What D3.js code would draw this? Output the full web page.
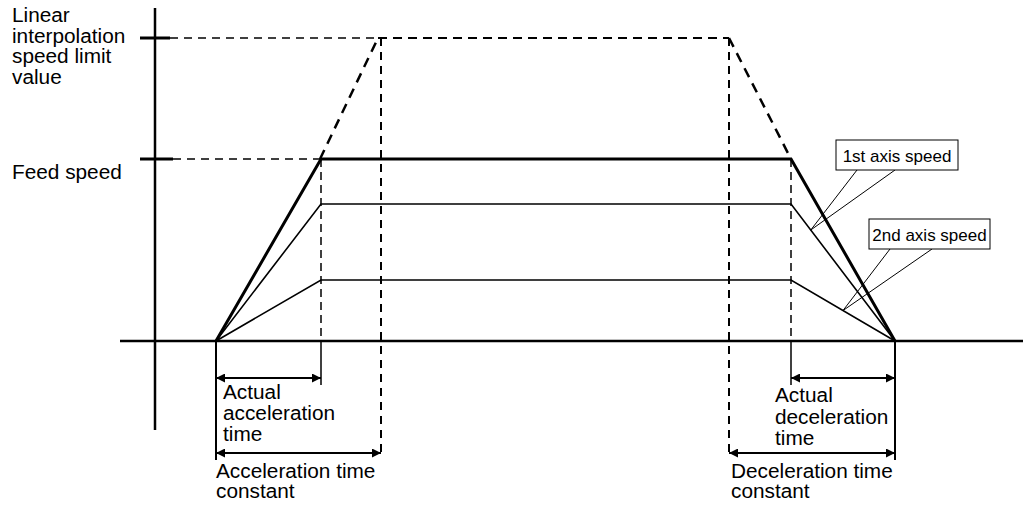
<!DOCTYPE html>
<html>
<head>
<meta charset="utf-8">
<script src="https://cdn.jsdelivr.net/npm/d3@7"></script>
<style>
  html, body { margin: 0; padding: 0; background: #fff; }
  svg { display: block; }
  text { font-family: "Liberation Sans", Arial, Helvetica, sans-serif; fill: #000; }
</style>
</head>
<body>
<svg id="chart" width="1023" height="507"></svg>
<script>
// ---- Data (time in arbitrary units, speed in % of feed speed) ----
const phaseNames  = ["start", "actualAccelEnd", "accelConstEnd", "decelConstStart", "actualDecelStart", "end"];
const phaseTimes  = [0, 105, 165, 513, 575, 679];
const speedLevels = ["Linear interpolation speed limit value", "Feed speed", "1st axis speed", "2nd axis speed"];
const speedValues = [166.5, 100, 75.3, 33.5];
const feedProfile  = [0, 100, 100, 0];      // at start, actualAccelEnd, actualDecelStart, end
const axis1Profile = [0, 75.3, 75.3, 0];
const axis2Profile = [0, 33.5, 33.5, 0];
const limitProfileTimes = [104, 162, 513, 575]; // dashed virtual profile at speed limit
const limitProfileSpeeds = [100, 166.5, 166.5, 100];
const yLabelLines = [["Linear", "interpolation", "speed limit", "value"], ["Feed speed"]];
const accelLabels = [["Actual", "acceleration", "time"], ["Acceleration time", "constant"]];
const decelLabels = [["Actual", "deceleration", "time"], ["Deceleration time", "constant"]];
const calloutLabels = ["1st axis speed", "2nd axis speed"];

const svg = d3.select("#chart");
const x = d3.scaleLinear().domain([-96, 807]).range([120, 1023]);
const y = d3.scaleLinear().domain([0, 166.5]).range([341, 38]);

const T = phaseTimes;
const profT = [T[0], T[1], T[4], T[5]];

// defs: arrowheads
const defs = svg.append("defs");
defs.append("marker").attr("id", "arrEnd").attr("viewBox", "0 0 10 10")
  .attr("refX", 10).attr("refY", 5).attr("markerWidth", 10).attr("markerHeight", 9)
  .attr("markerUnits", "userSpaceOnUse").attr("orient", "auto")
  .append("path").attr("d", "M0,0 L10,5 L0,10 Z").attr("fill", "#000");
defs.append("marker").attr("id", "arrStart").attr("viewBox", "0 0 10 10")
  .attr("refX", 0).attr("refY", 5).attr("markerWidth", 10).attr("markerHeight", 9)
  .attr("markerUnits", "userSpaceOnUse").attr("orient", "auto")
  .append("path").attr("d", "M10,0 L0,5 L10,10 Z").attr("fill", "#000");

const line = d3.line().x(d => x(d[0])).y(d => y(d[1]));
function seg(x1, y1, x2, y2, w, dash) {
  const l = svg.append("line").attr("x1", x1).attr("y1", y1).attr("x2", x2).attr("y2", y2)
    .attr("stroke", "#000").attr("stroke-width", w);
  if (dash) l.attr("stroke-dasharray", dash);
  return l;
}

// ---- Axes ----
seg(x(-61), 8, x(-61), 430, 2.5);          // vertical axis
seg(x(-96), y(0), x(807), y(0), 2.5);       // time axis
// ticks on speed axis
seg(x(-76), y(speedValues[0]), x(-46), y(speedValues[0]), 3);
seg(x(-76), y(speedValues[1]), x(-43), y(speedValues[1]), 3);

// ---- Dashed reference lines ----
seg(x(-46), y(speedValues[0]), x(limitProfileTimes[1]), y(speedValues[0]), 1.5, "8,6");
seg(x(limitProfileTimes[1]), y(speedValues[0]), x(limitProfileTimes[2]), y(speedValues[0]), 2, "9,6");
seg(x(-43), y(speedValues[1]), x(T[1]), y(speedValues[1]), 1.5, "8,6");
// dashed slopes to speed limit
seg(x(limitProfileTimes[0]), y(limitProfileSpeeds[0]), x(limitProfileTimes[1]), y(limitProfileSpeeds[1]), 2.5, "10,7");
seg(x(limitProfileTimes[2]), y(limitProfileSpeeds[2]), x(limitProfileTimes[3]), y(limitProfileSpeeds[3]), 2.5, "10,7");
// dashed verticals
seg(x(T[1]), y(speedValues[1]), x(T[1]), y(0), 1.5, "8,5");
seg(x(T[4]), y(speedValues[1]), x(T[4]), y(0), 1.5, "8,5");
seg(x(T[2]), y(speedValues[0]), x(T[2]), 458, 2, "8,6");
seg(x(T[3]), y(speedValues[0]), x(T[3]), 458, 2, "8,6");

// ---- Speed profiles ----
const profiles = [
  {vals: feedProfile, w: 3},
  {vals: axis1Profile, w: 1.6},
  {vals: axis2Profile, w: 1.6}
];
profiles.forEach(p => {
  svg.append("path").datum(profT.map((t, i) => [t, p.vals[i]]))
    .attr("d", line).attr("fill", "none").attr("stroke", "#000")
    .attr("stroke-width", p.w).attr("stroke-linejoin", "miter");
});

// ---- Extension lines below axis ----
seg(x(T[0]), y(0), x(T[0]), 460, 2);
seg(x(T[5]), y(0), x(T[5]), 460, 2);
seg(x(T[1]), y(0), x(T[1]), 385, 1.5);
seg(x(T[4]), y(0), x(T[4]), 385, 1.5);

// ---- Dimension arrows ----
function dim(t1, t2, yy) {
  svg.append("line").attr("x1", x(t1)).attr("x2", x(t2)).attr("y1", yy).attr("y2", yy)
    .attr("stroke", "#000").attr("stroke-width", 1.8)
    .attr("marker-start", "url(#arrStart)").attr("marker-end", "url(#arrEnd)");
}
dim(T[0], T[1], 378);
dim(T[0], T[2], 453);
dim(T[4], T[5], 378);
dim(T[3], T[5], 453);

// ---- Text labels ----
const FS = 20;
function multi(lines, xx, y0, lh, fs) {
  const g = svg.append("g").attr("transform", `translate(${xx},0) scale(1.04,1)`);
  const t = g.append("text").attr("font-size", fs || FS);
  lines.forEach((s, i) => t.append("tspan").attr("x", 0).attr("y", y0 + i * lh).text(s));
  return t;
}
multi(yLabelLines[0], 12, 22, 20.6);
multi(yLabelLines[1], 12, 179, 20.6);
multi(accelLabels[0], x(T[0]) + 7, 399, 21);
multi(accelLabels[1], x(T[0]), 478, 20.5);
multi(decelLabels[0], x(T[4]) - 16, 402, 21.7);
multi(decelLabels[1], x(T[3]) + 2, 478, 20.5);

// ---- Callouts ----
const callouts = [
  {label: calloutLabels[0], box: [836, 140, 122, 30], legs: [857, 895], seriesVals: axis1Profile, base: 162},
  {label: calloutLabels[1], box: [869, 219, 121, 30], legs: [890, 932], seriesVals: axis2Profile, base: 241}
];
// tip points lie on the deceleration segments of each axis line
const tipFractions = [0.19, 0.5];
callouts.forEach((c, i) => {
  const f = tipFractions[i];
  const tx = x(T[4] + (T[5] - T[4]) * f);
  const ty = y(c.seriesVals[2] * (1 - f));
  const [bx, by, bw, bh] = c.box;
  svg.append("path")
    .attr("d", `M${c.legs[0]},${by + bh} L${tx},${ty} L${c.legs[1]},${by + bh}`)
    .attr("fill", "none").attr("stroke", "#000").attr("stroke-width", 1);
  svg.append("rect").attr("x", bx).attr("y", by).attr("width", bw).attr("height", bh)
    .attr("fill", "#fff").attr("stroke", "#000").attr("stroke-width", 1);
  svg.append("text").attr("x", bx + bw / 2).attr("y", c.base).attr("text-anchor", "middle")
    .attr("font-size", 17).text(c.label);
});
</script>
</body>
</html>
